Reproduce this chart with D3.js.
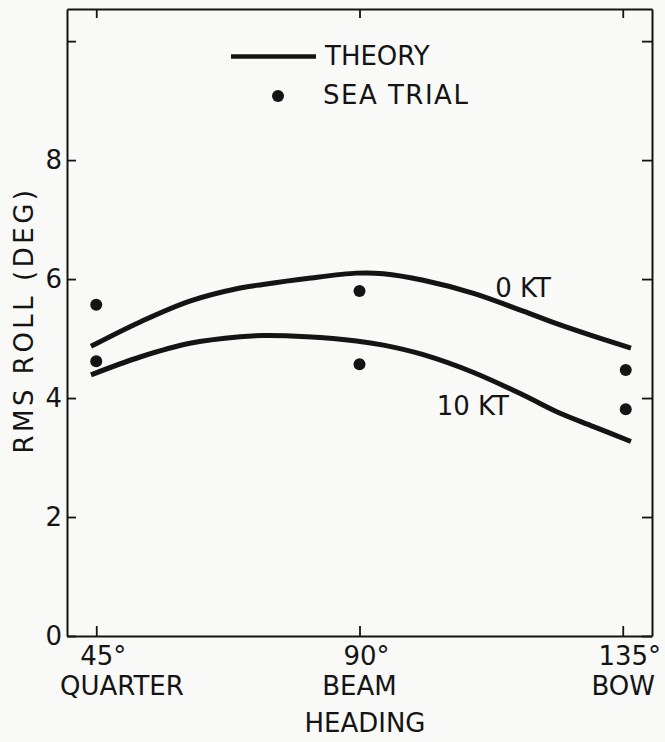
<!DOCTYPE html>
<html lang="en">
<head>
<meta charset="UTF-8">
<title>RMS roll vs heading</title>
<style>
  body { margin: 0; background: #f9f9f7; }
  svg { display: block; }
  text { font-family: "DejaVu Sans", sans-serif; fill: #141414; }
</style>
</head>
<body>
<svg id="chart"></svg>
<script src="https://d3js.org/d3.v7.min.js"></script>
<script>
// heading ticks and their names
const headings = [45, 90, 135];
const headingNames = ["QUARTER", "BEAM", "BOW"];
const rollTicks = [0, 2, 4, 6, 8, 10];

// sea trial points (upper = 0 kt, lower = 10 kt)
const trialHeading = [45, 90, 135];
const trial0kt = [5.57, 5.80, 4.47];
const trial10kt = [4.62, 4.57, 3.81];

// theory curves
const theoryHeading = [44.1, 52.5, 61.0, 69.6, 73.5, 81.0, 89.5, 94.1, 100.9, 109.5, 118.0, 123.7, 130.0, 136.4];
const theory0kt  = [4.87, 5.28, 5.63, 5.85, 5.91, 6.01, 6.10, 6.09, 5.98, 5.76, 5.46, 5.25, 5.04, 4.84];
const theory10kt = [4.39, 4.69, 4.92, 5.03, 5.05, 5.03, 4.96, 4.89, 4.73, 4.43, 4.05, 3.77, 3.52, 3.27];

const width = 665, height = 742;
const mLeft = 67, mRight = 652, mTop = 9, mBottom = 636;
const ink = "#141414";

const svg = d3.select("#chart")
    .attr("width", width)
    .attr("height", height)
    .attr("viewBox", [0, 0, width, height]);

const x = d3.scaleLinear([40, 140], [mLeft, mRight]);
const y = d3.scaleLinear([0, 10.54], [mBottom, mTop]);

// frame with inward ticks on all four sides
function styleAxis(g) {
    g.selectAll(".domain").attr("stroke", ink).attr("stroke-width", 2);
    g.selectAll(".tick line").attr("stroke", ink).attr("stroke-width", 1.8);
    g.selectAll(".tick text").remove();
}
svg.append("g").attr("transform", `translate(0,${mBottom})`)
    .call(d3.axisBottom(x).tickValues(headings).tickSize(-10).tickSizeOuter(0)).call(styleAxis);
svg.append("g").attr("transform", `translate(0,${mTop})`)
    .call(d3.axisTop(x).tickValues(headings).tickSize(-9).tickSizeOuter(0)).call(styleAxis);
svg.append("g").attr("transform", `translate(${mLeft},0)`)
    .call(d3.axisLeft(y).tickValues(rollTicks).tickSize(-9).tickSizeOuter(0)).call(styleAxis);
svg.append("g").attr("transform", `translate(${mRight},0)`)
    .call(d3.axisRight(y).tickValues(rollTicks).tickSize(-10).tickSizeOuter(0)).call(styleAxis);

// y tick labels (10 has no label)
svg.append("g")
    .attr("font-size", 26)
    .attr("text-anchor", "end")
    .selectAll("text")
    .data(rollTicks.filter(d => d < 10))
    .join("text")
    .attr("x", mLeft - 5)
    .attr("y", d => y(d))
    .attr("dy", "0.36em")
    .text(d => d);

// x tick labels, two rows
svg.append("g")
    .attr("font-size", 26)
    .attr("text-anchor", "middle")
    .selectAll("text")
    .data(headings)
    .join("text")
    .attr("x", d => x(d))
    .attr("dx", 7)
    .attr("y", 665)
    .text(d => d + "°");

svg.append("g")
    .attr("font-size", 26)
    .selectAll("text")
    .data(headingNames)
    .join("text")
    .attr("x", (d, i) => i === 0 ? mLeft - 7 : i === headingNames.length - 1 ? mRight + 3 : x(headings[i]))
    .attr("text-anchor", (d, i) => i === 0 ? "start" : i === headingNames.length - 1 ? "end" : "middle")
    .attr("y", 695)
    .text(d => d);

svg.append("text")
    .attr("font-size", 26)
    .attr("text-anchor", "middle")
    .attr("x", 365)
    .attr("y", 732)
    .text("HEADING");

svg.append("text")
    .attr("font-size", 26)
    .attr("text-anchor", "middle")
    .attr("letter-spacing", 3.5)
    .attr("transform", "translate(33,320) rotate(-90)")
    .text("RMS ROLL (DEG)");

// theory curves
const line = d3.line()
    .x((d, i) => x(theoryHeading[i]))
    .y(d => y(d))
    .curve(d3.curveCatmullRom.alpha(0.5));

svg.append("g")
    .attr("fill", "none")
    .attr("stroke", ink)
    .attr("stroke-width", 5)
    .selectAll("path")
    .data([theory0kt, theory10kt])
    .join("path")
    .attr("d", line);

// sea trial points
svg.append("g")
    .attr("fill", ink)
    .selectAll("circle")
    .data(trialHeading.flatMap((h, i) => [[h, trial0kt[i]], [h, trial10kt[i]]]))
    .join("circle")
    .attr("cx", d => x(d[0]) + (d[0] === 135 ? 3 : 0))
    .attr("cy", d => y(d[1]))
    .attr("r", 6);

// curve labels
svg.append("text").attr("font-size", 26)
    .attr("x", x(113.2)).attr("y", y(5.70)).text("0 KT");
svg.append("text").attr("font-size", 26)
    .attr("x", x(103.2)).attr("y", y(3.71)).text("10 KT");

// legend
svg.append("line")
    .attr("x1", 231).attr("x2", 316)
    .attr("y1", 56.5).attr("y2", 56.5)
    .attr("stroke", ink).attr("stroke-width", 4.5);
svg.append("text").attr("font-size", 26)
    .attr("x", 325).attr("y", 64.5).text("THEORY");
svg.append("circle")
    .attr("cx", 278).attr("cy", 96).attr("r", 6).attr("fill", ink);
svg.append("text").attr("font-size", 26)
    .attr("letter-spacing", 1.5)
    .attr("x", 323).attr("y", 104).text("SEA TRIAL");
</script>
</body>
</html>
